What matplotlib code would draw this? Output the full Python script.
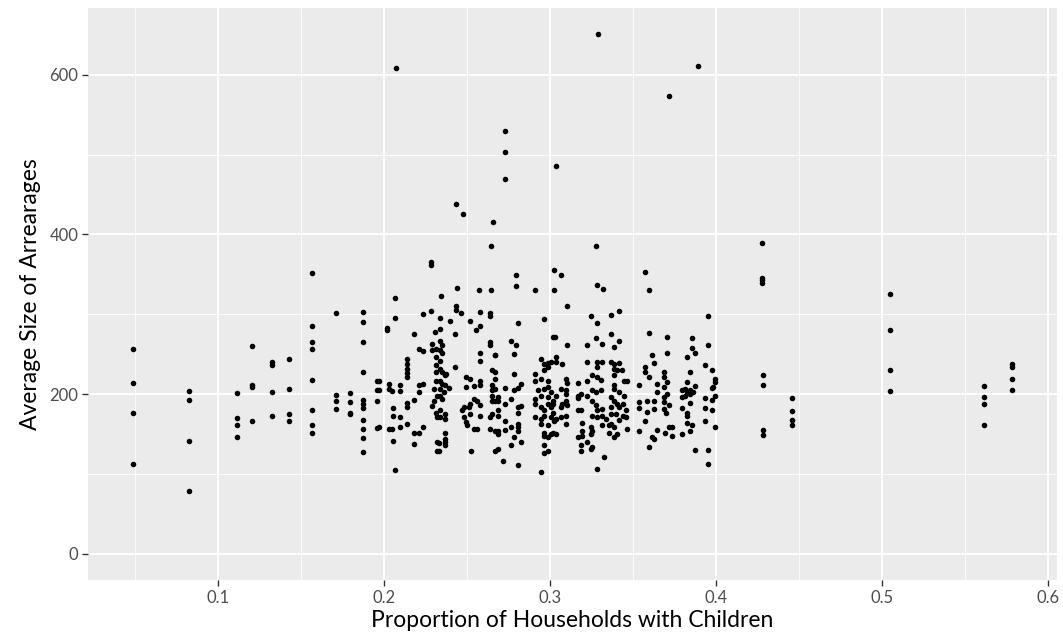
import matplotlib
matplotlib.use("Agg")
import matplotlib.pyplot as plt
from matplotlib.ticker import FixedLocator

plt.rcParams['font.family'] = ['Lato', 'DejaVu Sans']

# ---- data: proportion of households with children (x) and average arrearages (y) ----
# sparse left part (x < 0.2)
left_x = [0.0486, 0.0486, 0.0486, 0.0486,
          0.0825, 0.0825, 0.0825, 0.0825,
          0.1114, 0.1114, 0.1114, 0.1114,
          0.1205, 0.1205, 0.1205, 0.1205,
          0.1325, 0.1325, 0.1325, 0.1325,
          0.1426, 0.1426, 0.1426, 0.1426,
          0.1566, 0.1566, 0.1566, 0.1566, 0.1566, 0.1566, 0.1566, 0.1566,
          0.1707, 0.1707, 0.1707, 0.1707,
          0.1795, 0.1795, 0.1795, 0.1795,
          0.1875, 0.1875, 0.1875, 0.1875, 0.1875, 0.1875, 0.1875, 0.1875, 0.1875, 0.1875, 0.1875,
          0.1956, 0.1956, 0.1956, 0.1956]
left_y = [257, 214, 177, 113,
          204, 193, 141, 79,
          202, 170, 161, 146,
          260, 212, 209, 167,
          240, 236, 203, 173,
          244, 206, 175, 167,
          352, 285, 265, 256, 218, 180, 161, 152,
          302, 199, 191, 181,
          202, 190, 177, 175,
          303, 290, 266, 228, 193, 188, 183, 168, 157, 145, 128,
          217, 205, 191, 158]

# dense middle part (0.2 - 0.4), values up to ~317
mid_x = [0.2066, 0.2014, 0.2014, 0.2235, 0.2285, 0.2177, 0.2307, 0.2207, 0.2231, 0.2287, 0.2287, 0.2311,
         0.2137, 0.2137, 0.2137, 0.2137, 0.2137, 0.2026, 0.2026, 0.2050, 0.1970, 0.1970, 0.2094, 0.2094,
         0.2207, 0.2231, 0.2207, 0.2177, 0.2137, 0.2137, 0.2054, 0.2054, 0.2094, 0.2137, 0.2026, 0.2050,
         0.2094, 0.1970, 0.2177, 0.2207, 0.2231, 0.2054, 0.2177, 0.2066, 0.2287, 0.2311, 0.2321, 0.2321,
         0.2321, 0.2311, 0.2311, 0.2311, 0.2311, 0.2301, 0.2321, 0.2301,
         # x ~0.232-0.267
         0.2335, 0.2335, 0.2335, 0.2349, 0.2335, 0.2349, 0.2335, 0.2335, 0.2349, 0.2369, 0.2335, 0.2349,
         0.2369, 0.2389, 0.2335, 0.2359, 0.2335, 0.2349, 0.2335, 0.2369, 0.2339, 0.2369, 0.2369, 0.2369,
         0.2369, 0.2369, 0.2329, 0.2329,
         0.2435, 0.2435, 0.2460, 0.2395, 0.2425, 0.2425, 0.2375, 0.2516, 0.2576, 0.2636, 0.2636, 0.2576,
         0.2556, 0.2636, 0.2636, 0.2576, 0.2576, 0.2670, 0.2650, 0.2650, 0.2650, 0.2650, 0.2650, 0.2490,
         0.2516, 0.2490, 0.2540, 0.2576, 0.2576, 0.2480, 0.2470, 0.2510, 0.2520, 0.2540, 0.2560, 0.2580,
         0.2520, 0.2580, 0.2480, 0.2490, 0.2500, 0.2540, 0.2560, 0.2636, 0.2650, 0.2636, 0.2526, 0.2670,
         0.2670, 0.2670, 0.2670,
         # x ~0.267-0.302
         0.2806, 0.2966, 0.2765, 0.2796, 0.2785, 0.3020, 0.2669, 0.2669, 0.2669, 0.2785, 0.2725, 0.2785,
         0.2806, 0.2826, 0.2685, 0.2685, 0.2725, 0.2765, 0.2685, 0.2685, 0.2725, 0.2685, 0.2685, 0.2725,
         0.2765, 0.2806, 0.2826, 0.2806, 0.2806, 0.2806, 0.2806, 0.2785, 0.2826, 0.2765, 0.2685, 0.2715,
         0.2806, 0.2946, 0.2966, 0.2986, 0.3006, 0.2986, 0.2966, 0.2906, 0.2906, 0.2946, 0.2986, 0.2926,
         0.2966, 0.2986, 0.3006, 0.2946, 0.2986, 0.3020, 0.2906, 0.2906, 0.2946, 0.2966, 0.2986, 0.3006,
         0.2906, 0.2946, 0.2966, 0.3006, 0.3026, 0.2946, 0.2986, 0.2966, 0.3006, 0.2966, 0.2986, 0.2966,
         0.2986, 0.2966, 0.2946, 0.3020,
         # x ~0.302-0.337
         0.3104, 0.3245, 0.3285, 0.3365, 0.3028, 0.3104, 0.3225, 0.3275, 0.3315, 0.3369, 0.3038, 0.3038,
         0.3074, 0.3225, 0.3285, 0.3315, 0.3285, 0.3094, 0.3104, 0.3165, 0.3225, 0.3255, 0.3285, 0.3305,
         0.3064, 0.3094, 0.3094, 0.3034, 0.3094, 0.3074, 0.3104, 0.3064, 0.3165, 0.3185, 0.3165, 0.3225,
         0.3255, 0.3275, 0.3305, 0.3255, 0.3275, 0.3285, 0.3315, 0.3255, 0.3285, 0.3315, 0.3335, 0.3018,
         0.3018, 0.3034, 0.3165, 0.3185, 0.3064, 0.3094, 0.3094, 0.3195, 0.3195, 0.3245, 0.3255, 0.3315,
         0.3355, 0.3369, 0.3369, 0.3355, 0.3165, 0.3195, 0.3245, 0.3034, 0.3185, 0.3185, 0.3225, 0.3245,
         0.3255, 0.3325, 0.3285,
         # x ~0.337-0.372
         0.3417, 0.3594, 0.3704, 0.3704, 0.3417, 0.3383, 0.3614, 0.3624, 0.3574, 0.3574, 0.3594, 0.3684,
         0.3684, 0.3704, 0.3367, 0.3383, 0.3417, 0.3383, 0.3403, 0.3433, 0.3383, 0.3443, 0.3463, 0.3534,
         0.3383, 0.3383, 0.3417, 0.3443, 0.3644, 0.3644, 0.3684, 0.3684, 0.3704, 0.3367, 0.3383, 0.3403,
         0.3417, 0.3437, 0.3457, 0.3437, 0.3457, 0.3397, 0.3417, 0.3534, 0.3534, 0.3584, 0.3584, 0.3624,
         0.3624, 0.3684, 0.3684, 0.3698, 0.3718, 0.3367, 0.3383, 0.3403, 0.3383, 0.3463, 0.3534, 0.3574,
         0.3644, 0.3694, 0.3718, 0.3614, 0.3624, 0.3594,
         # x ~0.372-0.400
         0.3954, 0.3954, 0.3854, 0.3854, 0.3874, 0.3823, 0.3934, 0.3974, 0.3994, 0.3994, 0.3984, 0.3974,
         0.3843, 0.3823, 0.3874, 0.3793, 0.3813, 0.3823, 0.3843, 0.3864, 0.3813, 0.3793, 0.3843, 0.3934,
         0.3974, 0.3994, 0.3843, 0.3793, 0.3823, 0.3823, 0.3934, 0.3974, 0.3934, 0.3823, 0.3854, 0.3733,
         0.3733, 0.3793, 0.3843, 0.3994, 0.3874, 0.3954, 0.3954]
mid_y = [296, 283, 281, 301, 304, 276, 278, 257, 254, 263, 255, 257,
         244, 238, 232, 226, 221, 213, 207, 204, 217, 205, 211, 204,
         211, 213, 203, 193, 189, 184, 183, 173, 171, 163, 157, 157,
         159, 159, 152, 151, 159, 142, 138, 105, 185, 177, 171, 140,
         129, 247, 236, 228, 217, 207, 198, 192,
         295, 282, 267, 261, 255, 251, 242, 232, 228, 224, 217, 213,
         211, 208, 207, 203, 198, 194, 180, 175, 171, 169, 152, 144,
         140, 136, 139, 129,
         311, 305, 302, 292, 275, 234, 225, 292, 303, 302, 298, 286,
         280, 265, 261, 251, 242, 249, 230, 211, 205, 198, 192, 221,
         219, 209, 210, 217, 211, 184, 180, 184, 188, 194, 192, 186,
         175, 173, 171, 165, 161, 157, 157, 171, 175, 157, 129, 154,
         129, 192, 219,
         289, 294, 267, 262, 250, 272, 249, 228, 207, 225, 208, 205,
         208, 213, 196, 192, 188, 194, 180, 173, 167, 154, 150, 155,
         159, 184, 185, 177, 163, 159, 154, 146, 140, 137, 131, 116,
         111, 244, 238, 239, 240, 234, 230, 225, 216, 219, 217, 205,
         206, 209, 203, 198, 196, 192, 194, 188, 184, 180, 188, 184,
         171, 169, 173, 172, 167, 163, 161, 152, 150, 148, 146, 136,
         129, 127, 103, 152,
         310, 298, 289, 299, 272, 261, 261, 270, 263, 276, 247, 240,
         238, 240, 240, 240, 234, 219, 214, 214, 217, 224, 221, 218,
         207, 205, 200, 198, 192, 188, 186, 184, 198, 200, 195, 198,
         205, 203, 205, 192, 186, 180, 182, 173, 171, 173, 169, 188,
         177, 169, 180, 180, 171, 173, 163, 164, 154, 159, 154, 161,
         161, 184, 175, 152, 147, 148, 150, 150, 136, 129, 140, 131,
         134, 121, 106,
         304, 277, 272, 251, 267, 259, 249, 239, 234, 228, 221, 228,
         221, 215, 240, 238, 239, 232, 230, 230, 224, 216, 216, 211,
         211, 207, 203, 198, 213, 203, 209, 196, 200, 196, 192, 188,
         184, 188, 180, 173, 171, 175, 168, 190, 183, 191, 178, 192,
         182, 190, 182, 177, 186, 163, 159, 150, 146, 157, 154, 166,
         155, 152, 159, 147, 144, 134,
         298, 262, 271, 258, 252, 247, 236, 230, 219, 215, 209, 208,
         228, 215, 210, 205, 207, 203, 205, 203, 198, 196, 200, 195,
         193, 198, 189, 183, 176, 173, 183, 180, 167, 164, 162, 159,
         148, 150, 154, 159, 130, 130, 113]

# upper outliers in the middle part (values > ~317)
upper_x = [0.2645, 0.2283, 0.2283, 0.2795, 0.2795, 0.3024, 0.3066, 0.2906, 0.3024, 0.2574, 0.2645,
           0.2438, 0.2345, 0.2065, 0.3277, 0.3283, 0.3317, 0.3574, 0.3595,
           0.2072, 0.3289, 0.3892, 0.3717, 0.2726, 0.2726, 0.3036, 0.2726, 0.2434, 0.2473, 0.2654]
upper_y = [385, 366, 362, 349, 336, 356, 349, 330, 331, 330, 331,
           333, 323, 320, 385, 337, 332, 353, 331,
           609, 651, 611, 574, 530, 503, 486, 469, 438, 426, 416]

# sparse right part (x > 0.4)
right_x = [0.4275, 0.4275, 0.4275, 0.4275, 0.4285, 0.4285, 0.4285, 0.4285,
           0.4456, 0.4456, 0.4456, 0.4456,
           0.5046, 0.5046, 0.5046, 0.5046,
           0.5616, 0.5616, 0.5616, 0.5616,
           0.5785, 0.5785, 0.5785, 0.5785]
right_y = [389, 346, 343, 339, 224, 212, 155, 149,
           195, 179, 168, 161,
           325, 281, 230, 204,
           210, 197, 188, 162,
           238, 234, 219, 205]

x_all = left_x + mid_x + upper_x + right_x
y_all = left_y + mid_y + upper_y + right_y

x_major = [0.1, 0.2, 0.3, 0.4, 0.5, 0.6]
x_labels = ["0.1", "0.2", "0.3", "0.4", "0.5", "0.6"]
y_major = [0, 200, 400, 600]
y_labels = ["0", "200", "400", "600"]

# ---- figure ----
fig = plt.figure(figsize=(10.63, 6.43), dpi=100)
ax = fig.add_axes([0.0828, 0.098, 0.9116, 0.8896])
ax.set_facecolor("#EBEBEB")
for s in ax.spines.values():
    s.set_visible(False)

ax.scatter(x_all, y_all, s=16, c="black", linewidths=0, zorder=3)

ax.set_xlim(0.0215, 0.6055)
ax.set_ylim(-32.6, 683.6)

ax.xaxis.set_major_locator(FixedLocator(x_major))
ax.set_xticklabels(x_labels)
ax.xaxis.set_minor_locator(FixedLocator([0.05, 0.15, 0.25, 0.35, 0.45, 0.55]))
ax.yaxis.set_major_locator(FixedLocator(y_major))
ax.set_yticklabels(y_labels)
ax.yaxis.set_minor_locator(FixedLocator([100, 300, 500]))

ax.grid(which="major", color="white", linewidth=1.3, zorder=0)
ax.grid(which="minor", color="white", linewidth=0.6, zorder=0)
ax.set_axisbelow(True)

ax.tick_params(which="major", length=4, width=1, color="#333333",
               labelsize=12, labelcolor="#4D4D4D", pad=3)
ax.tick_params(which="minor", length=0)

ax.set_xlabel("Proportion of Households with Children", fontsize=16.5, color="black", labelpad=3)
ax.set_ylabel("Average Size of Arrearages", fontsize=16.5, color="black", labelpad=6)

fig.savefig("out.png", dpi=100, facecolor="white")
